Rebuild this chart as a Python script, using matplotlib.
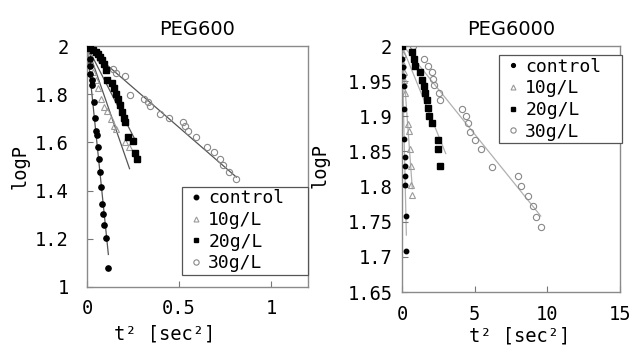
import matplotlib
matplotlib.use('Agg')
import matplotlib.pyplot as plt

plt.rcParams['font.family'] = ['DejaVu Sans Mono']

# ---------------- PEG600 data ----------------
p600_ctrl_x = [0.0, 0.014, 0.016, 0.018, 0.025, 0.029, 0.038, 0.045, 0.050, 0.054, 0.058,
               0.063, 0.068, 0.074, 0.079, 0.086, 0.095, 0.105, 0.115]
p600_ctrl_y = [2.0, 1.947, 1.916, 1.885, 1.858, 1.837, 1.768, 1.703, 1.647, 1.629, 1.581,
               1.532, 1.477, 1.415, 1.343, 1.302, 1.256, 1.205, 1.079]
p600_10_x = [0.0, 0.011, 0.022, 0.032, 0.047, 0.061, 0.077, 0.095, 0.108, 0.132, 0.144,
             0.155, 0.204, 0.227]
p600_10_y = [1.996, 1.968, 1.927, 1.892, 1.858, 1.827, 1.781, 1.747, 1.729, 1.698, 1.667,
             1.657, 1.602, 1.581]
p600_20_x = [0.004, 0.018, 0.032, 0.047, 0.061, 0.072, 0.083, 0.090, 0.101, 0.108, 0.137,
             0.148, 0.159, 0.169, 0.180, 0.191, 0.202, 0.209, 0.223, 0.252, 0.259, 0.270]
p600_20_y = [1.999, 1.993, 1.985, 1.975, 1.965, 1.954, 1.941, 1.924, 1.899, 1.860, 1.846,
             1.827, 1.802, 1.781, 1.754, 1.726, 1.703, 1.685, 1.622, 1.606, 1.556, 1.532]
p600_30_x = [0.004, 0.068, 0.141, 0.159, 0.204, 0.231, 0.312, 0.332, 0.344, 0.396, 0.447,
             0.519, 0.530, 0.546, 0.591, 0.654, 0.688, 0.721, 0.737, 0.769, 0.807]
p600_30_y = [1.999, 1.947, 1.906, 1.888, 1.874, 1.795, 1.780, 1.766, 1.750, 1.718, 1.700,
             1.685, 1.667, 1.647, 1.624, 1.581, 1.559, 1.531, 1.505, 1.477, 1.448]
# fitted lines (start, end)
p600_fit_ctrl = ([0.0, 0.116], [2.0, 1.135])
p600_fit_10 = ([0.0, 0.231], [2.0, 1.491])
p600_fit_20 = ([0.0, 0.267], [2.0, 1.602])
p600_fit_30 = ([0.0, 0.811], [1.993, 1.456])

# ---------------- PEG6000 data ----------------
p6000_ctrl_x = [0.0, 0.02, 0.07, 0.09, 0.11, 0.14, 0.16, 0.18, 0.18, 0.21, 0.23, 0.28, 0.30]
p6000_ctrl_y = [2.0, 1.982, 1.970, 1.958, 1.943, 1.911, 1.867, 1.842, 1.829, 1.815, 1.802,
                1.758, 1.708]
p6000_10_x = [0.05, 0.07, 0.11, 0.16, 0.21, 0.39, 0.46, 0.55, 0.60, 0.64, 0.71]
p6000_10_y = [1.989, 1.975, 1.963, 1.951, 1.933, 1.889, 1.879, 1.854, 1.829, 1.802, 1.788]
p6000_20_x = [0.0, 0.71, 0.80, 0.90, 1.22, 1.36, 1.49, 1.59, 1.72, 1.77, 1.86, 2.04, 2.46,
              2.50, 2.60]
p6000_20_y = [2.0, 1.991, 1.982, 1.972, 1.963, 1.952, 1.943, 1.933, 1.923, 1.912, 1.901,
              1.890, 1.866, 1.854, 1.829]
p6000_30_x = [0.76, 1.49, 1.79, 2.07, 2.14, 2.23, 2.55, 2.60, 4.16, 4.39, 4.55, 4.66, 5.05,
              5.47, 6.16, 7.97, 8.16, 8.66, 9.03, 9.21, 9.58]
p6000_30_y = [2.0, 1.982, 1.972, 1.963, 1.953, 1.944, 1.933, 1.923, 1.911, 1.900, 1.890,
              1.878, 1.866, 1.854, 1.828, 1.815, 1.801, 1.787, 1.773, 1.757, 1.742]
p6000_fit_ctrl = ([0.0, 0.30], [2.0, 1.731])
p6000_fit_10 = ([0.0, 0.71], [2.0, 1.797])
p6000_fit_20 = ([0.0, 3.01], [2.0, 1.847])
p6000_fit_30 = ([0.3, 9.55], [1.995, 1.758])

labels = ['control', '10g/L', '20g/L', '30g/L']

p600_yticks = [1.0, 1.2, 1.4, 1.6, 1.8, 2.0]
p600_ytl = ['1', '1.2', '1.4', '1.6', '1.8', '2']
p600_xticks = [0, 0.5, 1]
p600_xtl = ['0', '0.5', '1']
p6000_yticks = [1.65, 1.7, 1.75, 1.8, 1.85, 1.9, 1.95, 2.0]
p6000_ytl = ['1.65', '1.7', '1.75', '1.8', '1.85', '1.9', '1.95', '2']
p6000_xticks = [0, 5, 10, 15]
p6000_xtl = ['0', '5', '10', '15']

W, H = 634, 349
fig = plt.figure(figsize=(W / 100, H / 100), dpi=100)
ax1 = fig.add_axes([87 / W, 1 - 287 / H, 221 / W, 241 / H])
ax2 = fig.add_axes([402 / W, 1 - 292 / H, 218 / W, 246 / H])

GRAY = '#9a9a9a'


def draw(ax, series, fits, line_color, ms_ctrl, ms_sq):
    (cx, cy), (x10, y10), (x20, y20), (x30, y30) = series
    for fx, fy in fits:
        ax.plot(fx, fy, color=line_color, lw=0.9, zorder=1)
    h1, = ax.plot(cx, cy, 'o', color='black', ms=ms_ctrl, mec='black', ls='none', zorder=3)
    h2, = ax.plot(x10, y10, '^', mfc='none', mec=GRAY, mew=0.8, ms=4.2, ls='none', zorder=2)
    h3, = ax.plot(x20, y20, 's', color='black', ms=ms_sq, ls='none', zorder=3)
    h4, = ax.plot(x30, y30, 'o', mfc='none', mec='#888888', mew=0.8, ms=4.5, ls='none', zorder=2)
    return [h1, h2, h3, h4]


hs1 = draw(ax1,
           [(p600_ctrl_x, p600_ctrl_y), (p600_10_x, p600_10_y), (p600_20_x, p600_20_y),
            (p600_30_x, p600_30_y)],
           [p600_fit_ctrl, p600_fit_10, p600_fit_20, p600_fit_30], '#555555', 3.8, 4.2)
hs2 = draw(ax2,
           [(p6000_ctrl_x, p6000_ctrl_y), (p6000_10_x, p6000_10_y), (p6000_20_x, p6000_20_y),
            (p6000_30_x, p6000_30_y)],
           [p6000_fit_ctrl, p6000_fit_10, p6000_fit_20, p6000_fit_30], '#b0b0b0', 3.2, 4.0)

ax1.set_xlim(0, 1.2)
ax1.set_ylim(1.0, 2.0)
ax2.set_xlim(0, 15)
ax2.set_ylim(1.65, 2.0)

ax1.set_xticks(p600_xticks, p600_xtl)
ax1.set_yticks(p600_yticks, p600_ytl)
ax2.set_xticks(p6000_xticks, p6000_xtl)
ax2.set_yticks(p6000_yticks, p6000_ytl)

for ax, ypad, xpad in [(ax1, 13, 9), (ax2, 7, 9)]:
    for s in ax.spines.values():
        s.set_color('#8a8a8a')
        s.set_linewidth(1.0)
    ax.tick_params(axis='both', direction='in', length=4, color='#777777', labelsize=13.5)
    ax.tick_params(axis='y', pad=ypad)
    ax.tick_params(axis='x', pad=xpad)
    ax.set_ylabel('logP', fontsize=13.5)
    ax.set_xlabel('t² [sec²]', fontsize=13.5)

ax1.set_title('PEG600', fontsize=14, pad=8, family='DejaVu Sans')
ax2.set_title('PEG6000', fontsize=14, pad=8, family='DejaVu Sans')

ax1.yaxis.set_label_coords(-0.258, 0.5)
ax2.yaxis.set_label_coords(-0.33, 0.516)
ax1.xaxis.set_label_coords(0.35, -0.155)
ax2.xaxis.set_label_coords(0.54, -0.14)

leg_kw = dict(fontsize=13, frameon=True, fancybox=False, framealpha=1, edgecolor='#555555',
              handlelength=1.2, handletextpad=0.1, labelspacing=0.2, borderpad=0.15,
              borderaxespad=0, markerscale=0.85, mode='expand')
l1 = ax1.legend(hs1, labels, loc='lower left',
                bbox_to_anchor=(0.43, 0.05, 0.57, 0.365), **leg_kw)
l2 = ax2.legend(hs2, labels, loc='upper left',
                bbox_to_anchor=(0.445, 0.60, 0.564, 0.363), **leg_kw)
for l in (l1, l2):
    l.get_frame().set_linewidth(0.9)

fig.savefig('out.png', dpi=100)
